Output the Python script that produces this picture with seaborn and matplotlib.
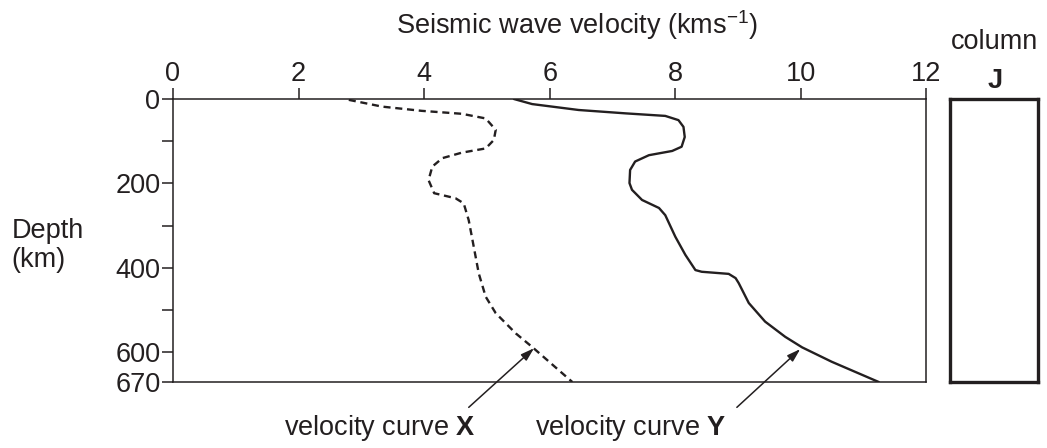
import numpy as np
import pandas as pd
import matplotlib
matplotlib.use("Agg")
import matplotlib.pyplot as plt
import seaborn as sns

# velocity curve X (dashed) - velocity in km/s, depth in km
x_velocity = [2.80, 3.33, 3.96, 4.60, 4.98, 5.14, 5.11, 4.98, 4.60, 4.29, 4.13,
              4.07, 4.16, 4.50, 4.63, 4.71, 4.77, 4.87, 4.98, 5.14, 5.46, 5.72, 6.36]
x_depth = [2, 18, 28, 35, 46, 73, 97, 117, 127, 140, 160,
           192, 223, 235, 247, 287, 334, 413, 468, 507, 555, 587, 670]

# velocity curve Y (solid)
y_velocity = [5.43, 5.72, 6.46, 7.21, 7.84, 8.05, 8.13, 8.15, 8.10, 7.95, 7.58,
              7.36, 7.28, 7.27, 7.31, 7.47, 7.74, 7.84, 8.00, 8.16, 8.32, 8.42,
              8.85, 8.96, 9.01, 9.17, 9.43, 9.75, 10.02, 10.49, 11.24]
y_depth = [0, 12, 26, 34, 40, 50, 66, 90, 113, 123, 133,
           148, 168, 199, 215, 239, 258, 275, 326, 369, 405, 409,
           414, 424, 436, 483, 527, 563, 588, 622, 670]

velocity_ticks = [0, 2, 4, 6, 8, 10, 12]
depth_ticks = [0, 200, 400, 600, 670]
depth_minor = [100, 300, 500]

df = pd.concat([
    pd.DataFrame({"velocity": x_velocity, "depth": x_depth, "curve": "X"}),
    pd.DataFrame({"velocity": y_velocity, "depth": y_depth, "curve": "Y"}),
], ignore_index=True)

sns.set_style("white")
plt.rcParams["font.family"] = ["Liberation Sans", "DejaVu Sans"]
plt.rcParams["mathtext.fontset"] = "custom"
plt.rcParams["mathtext.rm"] = "Liberation Sans"
plt.rcParams["mathtext.bf"] = "Liberation Sans:bold"
plt.rcParams["mathtext.it"] = "Liberation Sans:italic"

ink = "#231f20"
fs = 19.5

fig = plt.figure(figsize=(10.47, 4.48), dpi=100)
ax = fig.add_axes([0.1652, 0.1473, 0.7197, 0.6317])

sns.lineplot(data=df, x="velocity", y="depth", style="curve",
             dashes={"X": (3, 2), "Y": ""}, color=ink, sort=False,
             estimator=None, legend=False, lw=1.7, ax=ax)

ax.set_xlim(0, 12)
ax.set_ylim(670, 0)
ax.set_xticks(velocity_ticks)
ax.set_yticks(depth_ticks)
ax.set_yticks(depth_minor, minor=True)
ax.set_xlabel("")
ax.set_ylabel("")
ax.tick_params(axis="x", top=True, bottom=False, labeltop=True, labelbottom=False,
               direction="out", length=8, width=1.1, color=ink, labelsize=fs,
               labelcolor=ink, pad=1)
ax.tick_params(axis="y", which="both", left=True, direction="out", length=8,
               width=1.1, color=ink, labelsize=fs, labelcolor=ink, pad=1)
for sp in ax.spines.values():
    sp.set_visible(True)
    sp.set_color(ink)
    sp.set_linewidth(1.1)

# arrows to the curves
ax.annotate("", xy=(5.75, 590), xytext=(4.71, 730), annotation_clip=False,
            arrowprops=dict(arrowstyle="-|>,head_length=0.8,head_width=0.25",
                            color=ink, lw=1.1, shrinkA=0, shrinkB=0))
ax.annotate("", xy=(9.99, 592), xytext=(8.98, 730), annotation_clip=False,
            arrowprops=dict(arrowstyle="-|>,head_length=0.8,head_width=0.25",
                            color=ink, lw=1.1, shrinkA=0, shrinkB=0))

fig.text(0.4546, 0.044, r"velocity curve $\mathbf{X}$", ha="right", va="center",
         fontsize=fs, color=ink)
fig.text(0.511, 0.044, r"velocity curve $\mathbf{Y}$", ha="left", va="center",
         fontsize=fs, color=ink)

fig.text(0.551, 0.944, r"Seismic wave velocity (kms$^{-1}$)", ha="center",
         va="center", fontsize=fs, color=ink)
fig.text(0.011, 0.453, "Depth\n(km)", ha="left", va="center", fontsize=fs,
         color=ink, linespacing=1.15)

# column J
cax = fig.add_axes([0.9074, 0.1473, 0.0840, 0.6317])
cax.set_xticks([])
cax.set_yticks([])
for sp in cax.spines.values():
    sp.set_visible(True)
    sp.set_color(ink)
    sp.set_linewidth(2.4)
fig.text(0.950, 0.906, "column", ha="center", va="center", fontsize=fs, color=ink)
fig.text(0.950, 0.819, "J", ha="center", va="center", fontsize=fs,
         fontweight="bold", color=ink)

fig.savefig("out.png", dpi=100)
